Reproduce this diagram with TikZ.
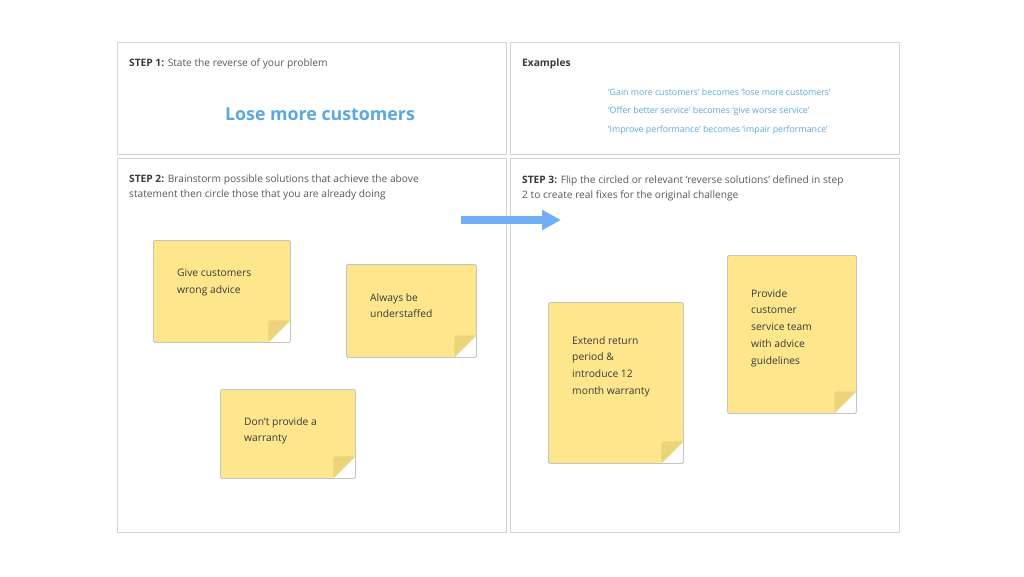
\documentclass[tikz,border=0pt]{standalone}
\usepackage{fontspec}
\setmainfont{Open Sans}
\usetikzlibrary{arrows.meta}
\definecolor{panelLine}{HTML}{D4D4D4}
\definecolor{noteYellow}{HTML}{FDE68C}
\definecolor{noteFold}{HTML}{ECD47A}
\definecolor{noteLine}{HTML}{C4C4C4}
\definecolor{titleBlue}{HTML}{5BA8E0}
\definecolor{arrowBlue}{HTML}{72AEF6}
\definecolor{stepGrey}{HTML}{595959}
\definecolor{noteInk}{HTML}{3A3A3A}
\begin{document}
\begin{tikzpicture}[x=1pt, y=-1pt,
    revPanel/.style={draw=panelLine, line width=1.2pt, anchor=north west, inner sep=0pt, minimum width=389pt},
    revStep/.style={anchor=north west, inner sep=0pt, align=left, text=stepGrey, font=\fontsize{10.2}{15}\selectfont},
    revExample/.style={anchor=west, inner sep=0pt, text=titleBlue, font=\fontsize{8.8}{10}\selectfont},
    revNote/.style={draw=noteLine, fill=noteYellow, line width=0.9pt, rounded corners=1.5pt, anchor=north west, inner sep=0pt,
        path picture={
            \fill[white] ([xshift=-22pt]path picture bounding box.south east) -- (path picture bounding box.south east)
                -- ([yshift=22pt]path picture bounding box.south east) -- cycle;
            \fill[noteFold] ([xshift=-22pt]path picture bounding box.south east) -- ([shift={(-22pt,22pt)}]path picture bounding box.south east)
                -- ([yshift=22pt]path picture bounding box.south east) -- cycle;
        }},
    revNoteText/.style={anchor=north west, inner sep=0pt, align=left, text=noteInk, font=\fontsize{10.3}{16.8}\selectfont},
    revArrow/.style={-{Triangle[length=19pt, width=19pt]}, line width=8pt, draw=arrowBlue}]

    \useasboundingbox[fill=white] (0,0) rectangle (1024,576);

    % Panels
    \node[revPanel, minimum height=112pt] (stepOneBox) at (117,42) {};
    \node[revPanel, minimum height=112pt] (examplesBox) at (510,42) {};
    \node[revPanel, minimum height=374pt] (stepTwoBox) at (117,158) {};
    \node[revPanel, minimum height=374pt] (stepThreeBox) at (510,158) {};

    % Step 1
    \node[revStep, anchor=west] (stepOneText) at (129,64) {{\bfseries\color{noteInk}STEP 1:} State the reverse of your problem};
    \node[text=titleBlue, font=\fontsize{17.8}{20}\selectfont\bfseries] (reverseGoal) at (320,114) {Lose more customers};

    % Examples
    \node[revStep, anchor=west, text=noteInk, font=\fontsize{10.2}{15}\selectfont\bfseries] (examplesHead) at (522,64) {Examples};
    \node[revExample] (exampleGain) at (608,92) {‘Gain more customers’ becomes ‘lose more customers’};
    \node[revExample] (exampleOffer) at (608,111) {‘Offer better service’ becomes ‘give worse service’};
    \node[revExample] (exampleImprove) at (608,130) {‘Improve performance’ becomes ‘impair performance’};

    % Step 2
    \node[revStep] (stepTwoText) at (129,175) {{\bfseries\color{noteInk}STEP 2:} Brainstorm possible solutions that achieve the above\\statement then circle those that you are already doing};
    \node[revNote, minimum width=137pt, minimum height=102pt] (noteAdvice) at (153,240) {};
    \node[revNoteText] (noteAdviceText) at (177,269) {Give customers\\wrong advice};
    \node[revNote, minimum width=130pt, minimum height=93pt] (noteStaff) at (346,264) {};
    \node[revNoteText] (noteStaffText) at (370,293) {Always be\\understaffed};
    \node[revNote, minimum width=135pt, minimum height=89pt] (noteWarranty) at (220,389) {};
    \node[revNoteText] (noteWarrantyText) at (244,417) {Don’t provide a\\warranty};

    % Step 3
    \node[revStep] (stepThreeText) at (522,175) {{\bfseries\color{noteInk}STEP 3:} Flip the circled or relevant ‘reverse solutions’ defined in step\\2 to create real fixes for the original challenge};
    \node[revNote, minimum width=135pt, minimum height=161pt] (noteReturn) at (548,302) {};
    \node[revNoteText] (noteReturnText) at (572,336) {Extend return\\period \&\\introduce 12\\month warranty};
    \node[revNote, minimum width=129pt, minimum height=158pt] (noteGuide) at (727,255) {};
    \node[revNoteText] (noteGuideText) at (751,289) {Provide\\customer\\service team\\with advice\\guidelines};

    % Flip arrow
    \coordinate (flipTail) at (461,220);
    \coordinate (flipHead) at (561,220);
    \draw[revArrow] (flipTail) -- (flipHead);
\end{tikzpicture}
\end{document}
